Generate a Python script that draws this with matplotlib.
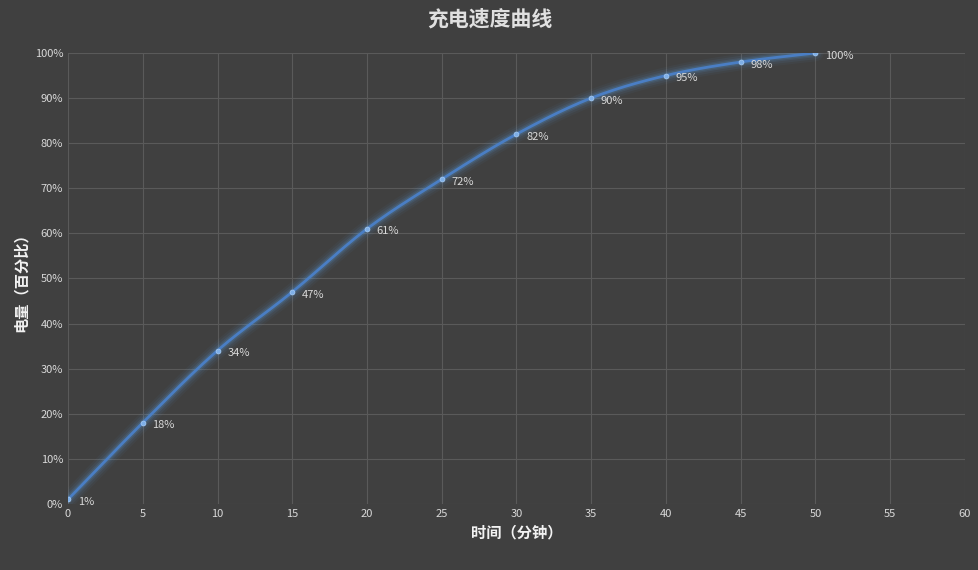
import matplotlib
matplotlib.use("Agg")
import matplotlib.pyplot as plt
import numpy as np
from matplotlib.ticker import FuncFormatter

plt.rcParams['font.family'] = ['Noto Sans CJK SC', 'DejaVu Sans']

minutes = [0, 5, 10, 15, 20, 25, 30, 35, 40, 45, 50]
charge = [1, 18, 34, 47, 61, 72, 82, 90, 95, 98, 100]

def smooth(x, y, n=20):
    x = np.asarray(x, float); y = np.asarray(y, float)
    m = np.gradient(y, x)
    xs, ys = [], []
    for i in range(len(x) - 1):
        h = x[i+1] - x[i]
        t = np.linspace(0, 1, n, endpoint=False)
        h00 = 2*t**3 - 3*t**2 + 1; h10 = t**3 - 2*t**2 + t
        h01 = -2*t**3 + 3*t**2; h11 = t**3 - t**2
        xs.append(x[i] + t*h)
        ys.append(h00*y[i] + h10*h*m[i] + h01*y[i+1] + h11*h*m[i+1])
    xs.append([x[-1]]); ys.append([y[-1]])
    return np.concatenate(xs), np.concatenate(ys)

bg = '#404040'
fig = plt.figure(figsize=(9.79, 5.7), dpi=100, facecolor=bg)
ax = fig.add_axes([0.0695, 0.116, 0.916, 0.791], facecolor=bg)

sx, sy = smooth(minutes, charge)
for lw, a in [(12, 0.05), (9, 0.08), (6, 0.12), (4, 0.18)]:
    ax.plot(sx, sy, color='#5b9bd5', lw=lw, alpha=a, solid_capstyle='round')
ax.plot(sx, sy, color='#4a7ec4', lw=2)
ax.plot(minutes, charge, 'o', color='#7fb0e8', ms=3.5, mec='#a9cdf5', mew=0.5)
for x, y in zip(minutes, charge):
    ax.annotate(f'{y}%', (x, y), xytext=(7, -4), textcoords='offset points',
                color='#d9d9d9', fontsize=8)

ax.set_xlim(0, 60); ax.set_ylim(0, 100)
ax.set_xticks(range(0, 61, 5)); ax.set_yticks(range(0, 101, 10))
ax.yaxis.set_major_formatter(FuncFormatter(lambda v, p: f'{int(v)}%'))
ax.grid(True, color='#5a5a5a', lw=0.8)
ax.set_axisbelow(True)
for s in ax.spines.values():
    s.set_visible(False)
ax.tick_params(colors='#d9d9d9', labelsize=8, length=0)
ax.set_xlabel('时间（分钟）', color='#f2f2f2', fontsize=11, fontweight='bold')
ax.set_ylabel('电量（百分比）', color='#f2f2f2', fontsize=11, fontweight='bold')
fig.suptitle('充电速度曲线', color='#e0e0e0', fontsize=15, fontweight='bold', y=0.985)
fig.savefig('out.png', dpi=100, facecolor=bg)
